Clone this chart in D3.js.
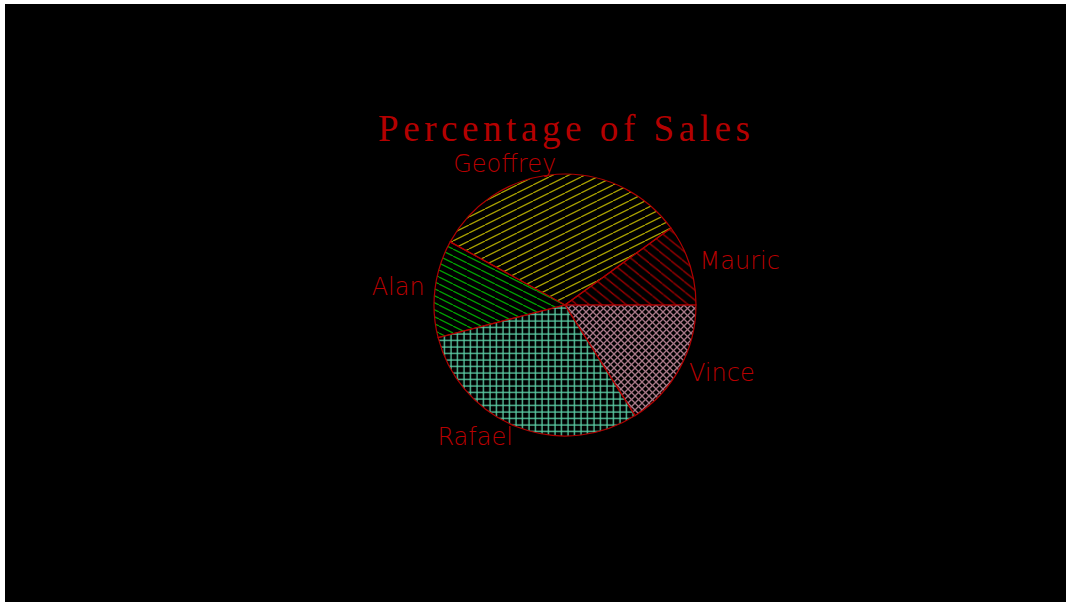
<!DOCTYPE html>
<html>
<head>
<meta charset="utf-8">
<script src="https://cdn.jsdelivr.net/npm/d3@7"></script>
<style>
html,body{margin:0;padding:0;background:#fff;}
svg{display:block;}
</style>
</head>
<body>
<svg id="chart" width="1067" height="603"></svg>
<script>
const names = ["Mauric", "Geoffrey", "Alan", "Rafael", "Vince"];
const sales = [10, 32, 12, 30, 16];
const title = "Percentage of Sales";

const svg = d3.select("#chart");
const W = 1067, H = 603;
svg.append("rect").attr("x", 0).attr("y", 0).attr("width", W).attr("height", H).attr("fill", "#fff");
svg.append("rect").attr("x", 5).attr("y", 4).attr("width", 1061).attr("height", 598).attr("fill", "#000");

const cx = 565, cy = 305, r = 131;
const outline = "#b00000";

// hatch patterns
const defs = svg.append("defs");
const pats = [
  {id: "pMauric", color: "#a00000", size: 11, lines: [[0,0,11,11],[-11,0,0,11],[11,0,22,11]], rot: -6},
  {id: "pGeoffrey", color: "#a8a000", size: 8, lines: [[0,8,8,0],[-8,8,0,0],[8,8,16,0]], rot: 0, sx: 2},
  {id: "pAlan", color: "#00a000", size: 7, lines: [[0,0,7,7],[-7,0,0,7],[7,0,14,7]], rot: 0, sx: 2},
  {id: "pRafael", color: "#5ccfa6", size: 6.5, lines: [[0,3,6.5,3],[3,0,3,6.5]], rot: 0},
  {id: "pVince", color: "#a87888", size: 7, lines: [[0,0,7,7],[0,7,7,0],[-7,0,0,7],[7,0,14,7],[0,14,14,0],[-7,7,7,-7]], rot: 0}
];
pats.forEach(p => {
  const sx = p.sx || 1;
  const pat = defs.append("pattern")
    .attr("id", p.id)
    .attr("patternUnits", "userSpaceOnUse")
    .attr("width", p.size * sx)
    .attr("height", p.size)
    .attr("patternTransform", "rotate(" + p.rot + ")");
  const g = pat.append("g").attr("transform", "scale(" + sx + ",1)");
  p.lines.forEach(l => {
    g.append("line").attr("x1", l[0]).attr("y1", l[1]).attr("x2", l[2]).attr("y2", l[3])
      .attr("stroke", p.color).attr("stroke-width", 1.3).attr("vector-effect", "non-scaling-stroke");
  });
});

// pie: counterclockwise starting at east (d3 angles: 0 at north, clockwise)
const pie = d3.pie().sort(null).value(d => d)
  .startAngle(Math.PI / 2).endAngle(Math.PI / 2 - 2 * Math.PI);
const arcs = pie(sales);
const arc = d3.arc().innerRadius(0).outerRadius(r);

const g = svg.append("g").attr("transform", `translate(${cx},${cy})`);
g.selectAll("path.slice").data(arcs).enter().append("path")
  .attr("class", "slice")
  .attr("d", arc)
  .attr("fill", (d, i) => "url(#p" + names[i] + ")")
  .attr("stroke", outline)
  .attr("stroke-width", 1.2);

// labels
const lr = r * 1.08;
g.selectAll("text.lbl").data(arcs).enter().append("text")
  .attr("class", "lbl")
  .each(function(d, i) {
    const a = (d.startAngle + d.endAngle) / 2; // d3 angle
    const x = lr * Math.sin(a), y = -lr * Math.cos(a);
    d3.select(this).attr("x", x).attr("y", y)
      .attr("text-anchor", x < 0 ? "end" : "start")
      .attr("dominant-baseline", "central")
      .text(names[i]);
  })
  .attr("fill", "#b80000")
  .attr("font-family", "DejaVu Sans")
  .attr("font-weight", 200)
  .attr("font-size", 24);

svg.append("text")
  .attr("x", 378).attr("y", 141)
  .attr("fill", "#b40000")
  .attr("font-family", "Liberation Serif")
  .attr("font-size", 37)
  .attr("textLength", 372)
  .attr("lengthAdjust", "spacing")
  .text(title);
</script>
</body>
</html>
